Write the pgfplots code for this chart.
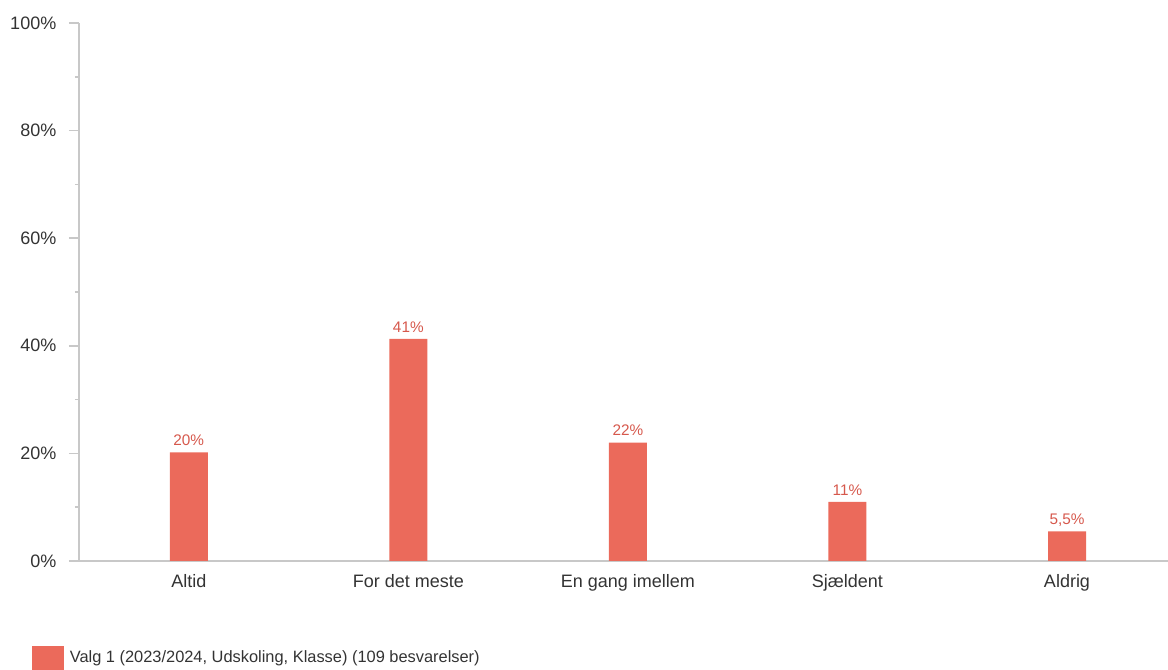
\documentclass[border=0pt]{standalone}
\usepackage{pgfplots}
\pgfplotsset{compat=1.18}
\usepackage{fontspec}
\setmainfont{Liberation Sans}
\definecolor{barc}{RGB}{235,106,91}
\definecolor{labc}{RGB}{214,88,76}
\definecolor{txt}{RGB}{51,51,51}
\definecolor{axc}{RGB}{200,200,200}
\begin{document}
\begin{tikzpicture}
\useasboundingbox (0pt,0pt) rectangle (876pt,502.5pt);
\begin{axis}[
  at={(59.25pt,81.75pt)}, anchor=south west,
  scale only axis, width=816.75pt, height=403.5pt,
  xmin=-0.5, xmax=4.46, ymin=0, ymax=100,
  axis x line=bottom, axis y line=left,
  axis line style={axc, line width=1.6pt, -},
  tick align=outside,
  major tick length=7.5pt, minor tick length=3pt,
  ytick={0,20,40,60,80,100},
  yticklabels={0\%,20\%,40\%,60\%,80\%,100\%},
  minor ytick={10,30,50,70,90},
  y tick style={axc, line width=1.2pt},
  yticklabel style={xshift=-6pt},
  xtick={0,1,2,3,4},
  xticklabels={Altid,For det meste,En gang imellem,Sjældent,Aldrig},
  x tick style={draw=none},
  xticklabel style={yshift=1.2pt},
  tick label style={font=\fontsize{13.5}{16}\selectfont, text=txt},
  ybar, bar width=0.173,
  point meta=explicit symbolic,
  nodes near coords={\pgfplotspointmeta},
  nodes near coords style={font=\fontsize{11.5}{13}\selectfont, text=labc, anchor=base, inner sep=0pt, yshift=5pt},
  legend style={at={(axis description cs:-0.0432,-0.180)}, anchor=west, draw=none, fill=none,
    font=\fontsize{12.3}{14}\selectfont, text=txt, inner sep=0pt, legend cell align=left},
  legend image code/.code={\fill[barc] (0pt,-9pt) rectangle (24pt,9pt);},
]
\addplot[fill=barc, draw=none] coordinates {
  (0,20.18) [20\%]
  (1,41.28) [41\%]
  (2,22.02) [22\%]
  (3,11.01) [11\%]
  (4,5.50) [{5,5\%}]
};
\addlegendentry{\hspace{2.2pt}Valg 1 (2023/2024, Udskoling, Klasse) (109 besvarelser)}
\end{axis}
\end{tikzpicture}
\end{document}
